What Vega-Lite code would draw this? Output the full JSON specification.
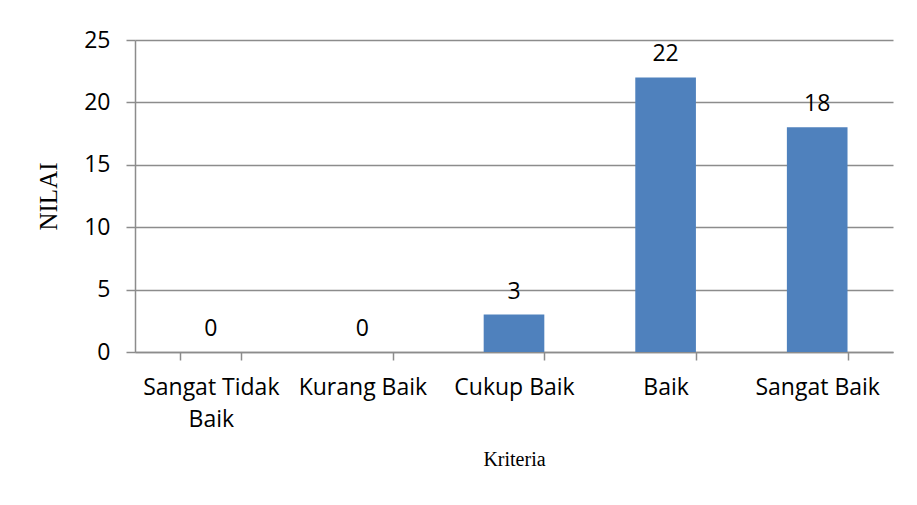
{
  "$schema": "https://vega.github.io/schema/vega-lite/v6.json",
  "autosize": "none",
  "width": 758,
  "height": 312,
  "padding": {"left": 135, "top": 40, "right": 24, "bottom": 153},
  "background": "white",
  "config": {
    "view": {"stroke": null},
    "font": "Open Sans"
  },
  "data": {
    "values": [
      {"kriteria": "Sangat Tidak Baik", "nilai": 0},
      {"kriteria": "Kurang Baik", "nilai": 0},
      {"kriteria": "Cukup Baik", "nilai": 3},
      {"kriteria": "Baik", "nilai": 22},
      {"kriteria": "Sangat Baik", "nilai": 18}
    ]
  },
  "encoding": {
    "x": {
      "field": "kriteria",
      "type": "nominal",
      "sort": null,
      "scale": {"paddingInner": 0.6, "paddingOuter": 0.3},
      "axis": {
        "title": "Kriteria",
        "titleFont": "Liberation Serif",
        "titleFontSize": 20,
        "titleFontWeight": "normal",
        "titleColor": "black",
        "titlePadding": 18,
        "labelAngle": 0,
        "labelFont": "Open Sans",
        "labelFontSize": 23,
        "labelColor": "black",
        "labelPadding": 16,
        "labelLineHeight": 32,
        "labelLimit": 200,
        "labelExpr": "datum.label == 'Sangat Tidak Baik' ? ['Sangat Tidak', 'Baik'] : datum.label",
        "tickBand": "extent",
        "tickSize": 8,
        "tickColor": "#8c8c8c",
        "tickWidth": 1.5,
        "domainColor": "#8c8c8c",
        "domainWidth": 1.5,
        "grid": false
      }
    },
    "y": {
      "field": "nilai",
      "type": "quantitative",
      "scale": {"domain": [0, 25], "nice": false},
      "axis": {
        "title": "NILAI",
        "titleFont": "Liberation Serif",
        "titleFontSize": 25,
        "titleFontWeight": "normal",
        "titleColor": "black",
        "titlePadding": 22,
        "values": [0, 5, 10, 15, 20, 25],
        "labelFont": "Open Sans",
        "labelFontSize": 23,
        "labelColor": "black",
        "labelPadding": 16,
        "tickSize": 9,
        "tickColor": "#8c8c8c",
        "tickWidth": 1.5,
        "domainColor": "#8c8c8c",
        "domainWidth": 1.5,
        "grid": true,
        "gridColor": "#8c8c8c",
        "gridWidth": 1.5
      }
    }
  },
  "layer": [
    {"mark": {"type": "bar", "color": "#4F81BD"}},
    {
      "mark": {"type": "text", "baseline": "alphabetic", "dy": -16, "font": "Open Sans", "fontSize": 23, "color": "black"},
      "encoding": {"text": {"field": "nilai", "type": "quantitative"}}
    }
  ]
}
